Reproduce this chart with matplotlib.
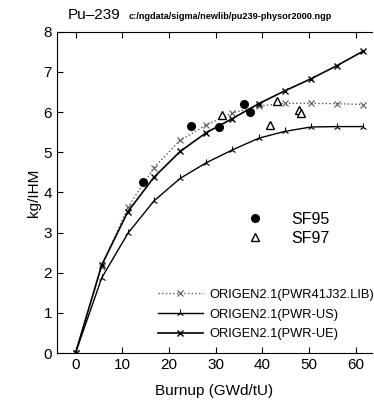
import matplotlib
matplotlib.use('Agg')
import matplotlib.pyplot as plt

plt.rcParams['font.family'] = ['Liberation Sans', 'DejaVu Sans']

# burnup grid of ORIGEN2.1 results
bu = [0, 5.6, 11.2, 16.8, 22.4, 28, 33.6, 39.2, 44.8, 50.4, 56, 61.6]
lib = [0, 2.15, 3.63, 4.62, 5.3, 5.68, 5.98, 6.15, 6.22, 6.22, 6.21, 6.19]
us = [0, 1.87, 2.98, 3.79, 4.35, 4.74, 5.06, 5.35, 5.52, 5.63, 5.64, 5.64]
ue = [0, 2.19, 3.52, 4.38, 5.02, 5.49, 5.84, 6.21, 6.53, 6.83, 7.16, 7.52]

sf95_x = [14.4, 24.8, 30.8, 36.0, 37.4]
sf95_y = [4.25, 5.66, 5.64, 6.2, 6.0]
sf97_x = [31.4, 41.7, 43.1, 47.8, 48.3]
sf97_y = [5.94, 5.69, 6.27, 6.05, 5.99]

fig = plt.figure(figsize=(3.74, 4.03), dpi=100)
ax = fig.add_axes([0.152, 0.124, 0.843, 0.797])

l1, = ax.plot(bu, lib, ls=':', color='0.35', lw=1, marker='x', ms=4, mew=0.8,
              label='ORIGEN2.1(PWR41J32.LIB)')
l2, = ax.plot(bu, us, ls='-', color='black', lw=1, marker='2', ms=6, mew=0.8,
              label='ORIGEN2.1(PWR-US)')
l3, = ax.plot(bu, ue, ls='-', color='black', lw=1.2, marker='x', ms=5, mew=1,
              label='ORIGEN2.1(PWR-UE)')
p1, = ax.plot(sf95_x, sf95_y, ls='none', marker='o', color='black', ms=5.5, label='SF95')
p2, = ax.plot(sf97_x, sf97_y, ls='none', marker='^', mfc='white', mec='black', ms=5.5,
              mew=1, label='SF97')

ax.set_xlim(-4, 63.5)
ax.set_ylim(0, 8)
ax.set_xticks(range(0, 70, 10))
ax.set_yticks(range(0, 9))
ax.tick_params(direction='in', top=True, labelsize=11, length=4)
ax.spines['top'].set_linestyle((0, (4, 1)))
ax.spines['right'].set_visible(False)

ax.set_xlabel('Burnup (GWd/tU)', fontsize=11, labelpad=9)
ax.set_ylabel('kg/IHM', fontsize=11, labelpad=2)

leg1 = ax.legend(handles=[p1, p2], loc='upper left', bbox_to_anchor=(0.565, 0.465),
                 frameon=False, fontsize=11.5, handlelength=1.5, handletextpad=1.5,
                 labelspacing=0.25, borderpad=0)
ax.add_artist(leg1)
ax.legend(handles=[l1, l2, l3], loc='upper left', bbox_to_anchor=(0.3, 0.22),
          frameon=False, fontsize=9.3, handlelength=3.5, handletextpad=0.5,
          labelspacing=0.6, borderpad=0)

fig.text(0.18, 0.952, 'Pu\u2013239', fontsize=11)
fig.text(0.345, 0.952, 'c:/ngdata/sigma/newlib/pu239-physor2000.ngp', fontsize=6.6,
         fontweight='bold')

fig.savefig('out.png', dpi=100)
